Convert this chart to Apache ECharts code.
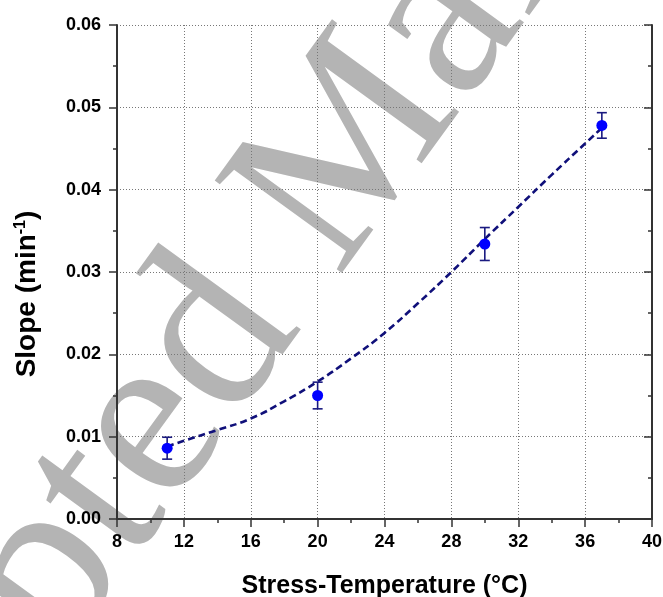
<!DOCTYPE html>
<html>
<head>
<meta charset="utf-8">
<script src="https://cdn.jsdelivr.net/npm/echarts@6/dist/echarts.min.js"></script>
<style>
html,body{margin:0;padding:0;background:#fff;}
#chart{width:663px;height:597px;}
</style>
</head>
<body>
<div id="chart"></div>
<script>
// Measured data
const temps = [11, 20, 30, 37];
const slopes = [0.0086, 0.0150, 0.0334, 0.0478];
const errors = [0.00133, 0.00162, 0.0020, 0.00155];

// Fit curve
const fitX = [11, 12, 14, 16, 18, 20, 22, 24, 26, 28, 30, 32, 34, 36, 37];
const fitY = [0.0088, 0.0095, 0.0108, 0.0122, 0.0143, 0.0167, 0.0195, 0.0226, 0.0262, 0.0300, 0.0340, 0.0379, 0.0418, 0.0456, 0.0475];

const xTitle = 'Stress-Temperature (°C)';
const watermark = 'Accepted Manuscript';

const chart = echarts.init(document.getElementById('chart'));
const axisColor = '#333333';
const labelStyle = {fontFamily: '"Liberation Sans", Arial, sans-serif', fontWeight: 'bold', fontSize: 18, color: '#000'};

const scatterData = temps.map((t, i) => [t, slopes[i]]);
const errData = temps.map((t, i) => [t, slopes[i] - errors[i], slopes[i] + errors[i]]);
const fitData = fitX.map((x, i) => [x, fitY[i]]);

const option = {
  animation: false,
  backgroundColor: '#fff',
  graphic: [{
    type: 'text',
    x: -281, y: 1023,
    rotation: 54 * Math.PI / 180,
    z: -10,
    silent: true,
    style: {
      text: watermark,
      font: '240px "Liberation Serif", "Times New Roman", serif',
      fill: '#b4b4b4',
      align: 'left',
      verticalAlign: 'middle'
    }
  }],
  grid: {left: 117, right: 11, top: 25, bottom: 78, outerBoundsMode: 'none', containLabel: false},
  xAxis: [{
    type: 'value', min: 8, max: 40, interval: 4, position: 'bottom',
    name: xTitle, nameLocation: 'middle', nameGap: 55,
    nameTextStyle: {fontFamily: '"Liberation Sans", Arial, sans-serif', fontWeight: 'bold', fontSize: 25, color: '#000'},
    axisLine: {show: true, lineStyle: {color: axisColor, width: 2}},
    axisTick: {show: true, inside: false, length: 8, lineStyle: {color: axisColor, width: 1.5}},
    minorTick: {show: true, splitNumber: 2, length: 4, lineStyle: {color: axisColor, width: 1.5}},
    axisLabel: Object.assign({margin: 14}, labelStyle),
    splitLine: {show: true, lineStyle: {type: [1, 2], color: '#777', width: 1}}
  }, {
    type: 'value', min: 8, max: 40, interval: 4, position: 'top',
    axisLine: {show: true, lineStyle: {color: axisColor, width: 2}},
    axisTick: {show: true, inside: true, length: 8, lineStyle: {color: axisColor, width: 1.5}},
    minorTick: {show: true, splitNumber: 2, length: 4, lineStyle: {color: axisColor, width: 1.5}},
    axisLabel: {show: false},
    splitLine: {show: false}
  }],
  yAxis: [{
    type: 'value', min: 0, max: 0.06, interval: 0.01, position: 'left',
    name: 'Slope (min{sup|-1})', nameLocation: 'middle', nameGap: 76,
    nameTextStyle: {
      fontFamily: '"Liberation Sans", Arial, sans-serif', fontWeight: 'bold', fontSize: 28, color: '#000',
      padding: [0, 44, 0, 0],
      rich: {sup: {fontFamily: '"Liberation Sans", Arial, sans-serif', fontWeight: 'bold', fontSize: 16, color: '#000', verticalAlign: 'top', padding: [0, 0, 10, 0]}}
    },
    axisLine: {show: true, lineStyle: {color: axisColor, width: 2}},
    axisTick: {show: true, inside: false, length: 8, lineStyle: {color: axisColor, width: 1.5}},
    minorTick: {show: true, splitNumber: 2, length: 4, lineStyle: {color: axisColor, width: 1.5}},
    axisLabel: Object.assign({margin: 16, formatter: v => v.toFixed(2)}, labelStyle),
    splitLine: {show: true, lineStyle: {type: [1, 2], color: '#777', width: 1}}
  }, {
    type: 'value', min: 0, max: 0.06, interval: 0.01, position: 'right',
    axisLine: {show: true, lineStyle: {color: axisColor, width: 2}},
    axisTick: {show: true, inside: true, length: 8, lineStyle: {color: axisColor, width: 1.5}},
    minorTick: {show: true, splitNumber: 2, length: 4, lineStyle: {color: axisColor, width: 1.5}},
    axisLabel: {show: false},
    splitLine: {show: false}
  }],
  series: [{
    type: 'line', name: 'fit', xAxisIndex: 0, yAxisIndex: 0,
    data: fitData, smooth: true, showSymbol: false, symbol: 'none',
    lineStyle: {color: '#10107a', width: 2.6, type: [7, 4]},
    z: 3
  }, {
    type: 'custom', name: 'err', xAxisIndex: 0, yAxisIndex: 0,
    data: errData,
    renderItem: function (params, api) {
      const x = api.value(0);
      const lo = api.coord([x, api.value(1)]);
      const hi = api.coord([x, api.value(2)]);
      const w = 5;
      const st = {stroke: '#1a1a80', lineWidth: 1.6, fill: null};
      return {type: 'group', children: [
        {type: 'line', shape: {x1: hi[0], y1: hi[1], x2: lo[0], y2: lo[1]}, style: st},
        {type: 'line', shape: {x1: hi[0] - w, y1: hi[1], x2: hi[0] + w, y2: hi[1]}, style: st},
        {type: 'line', shape: {x1: lo[0] - w, y1: lo[1], x2: lo[0] + w, y2: lo[1]}, style: st}
      ]};
    },
    z: 4
  }, {
    type: 'scatter', name: 'data', xAxisIndex: 0, yAxisIndex: 0,
    data: scatterData, symbol: 'circle', symbolSize: 11,
    itemStyle: {color: '#0000ff', opacity: 1},
    z: 5
  }]
};
chart.setOption(option);
</script>
</body>
</html>
